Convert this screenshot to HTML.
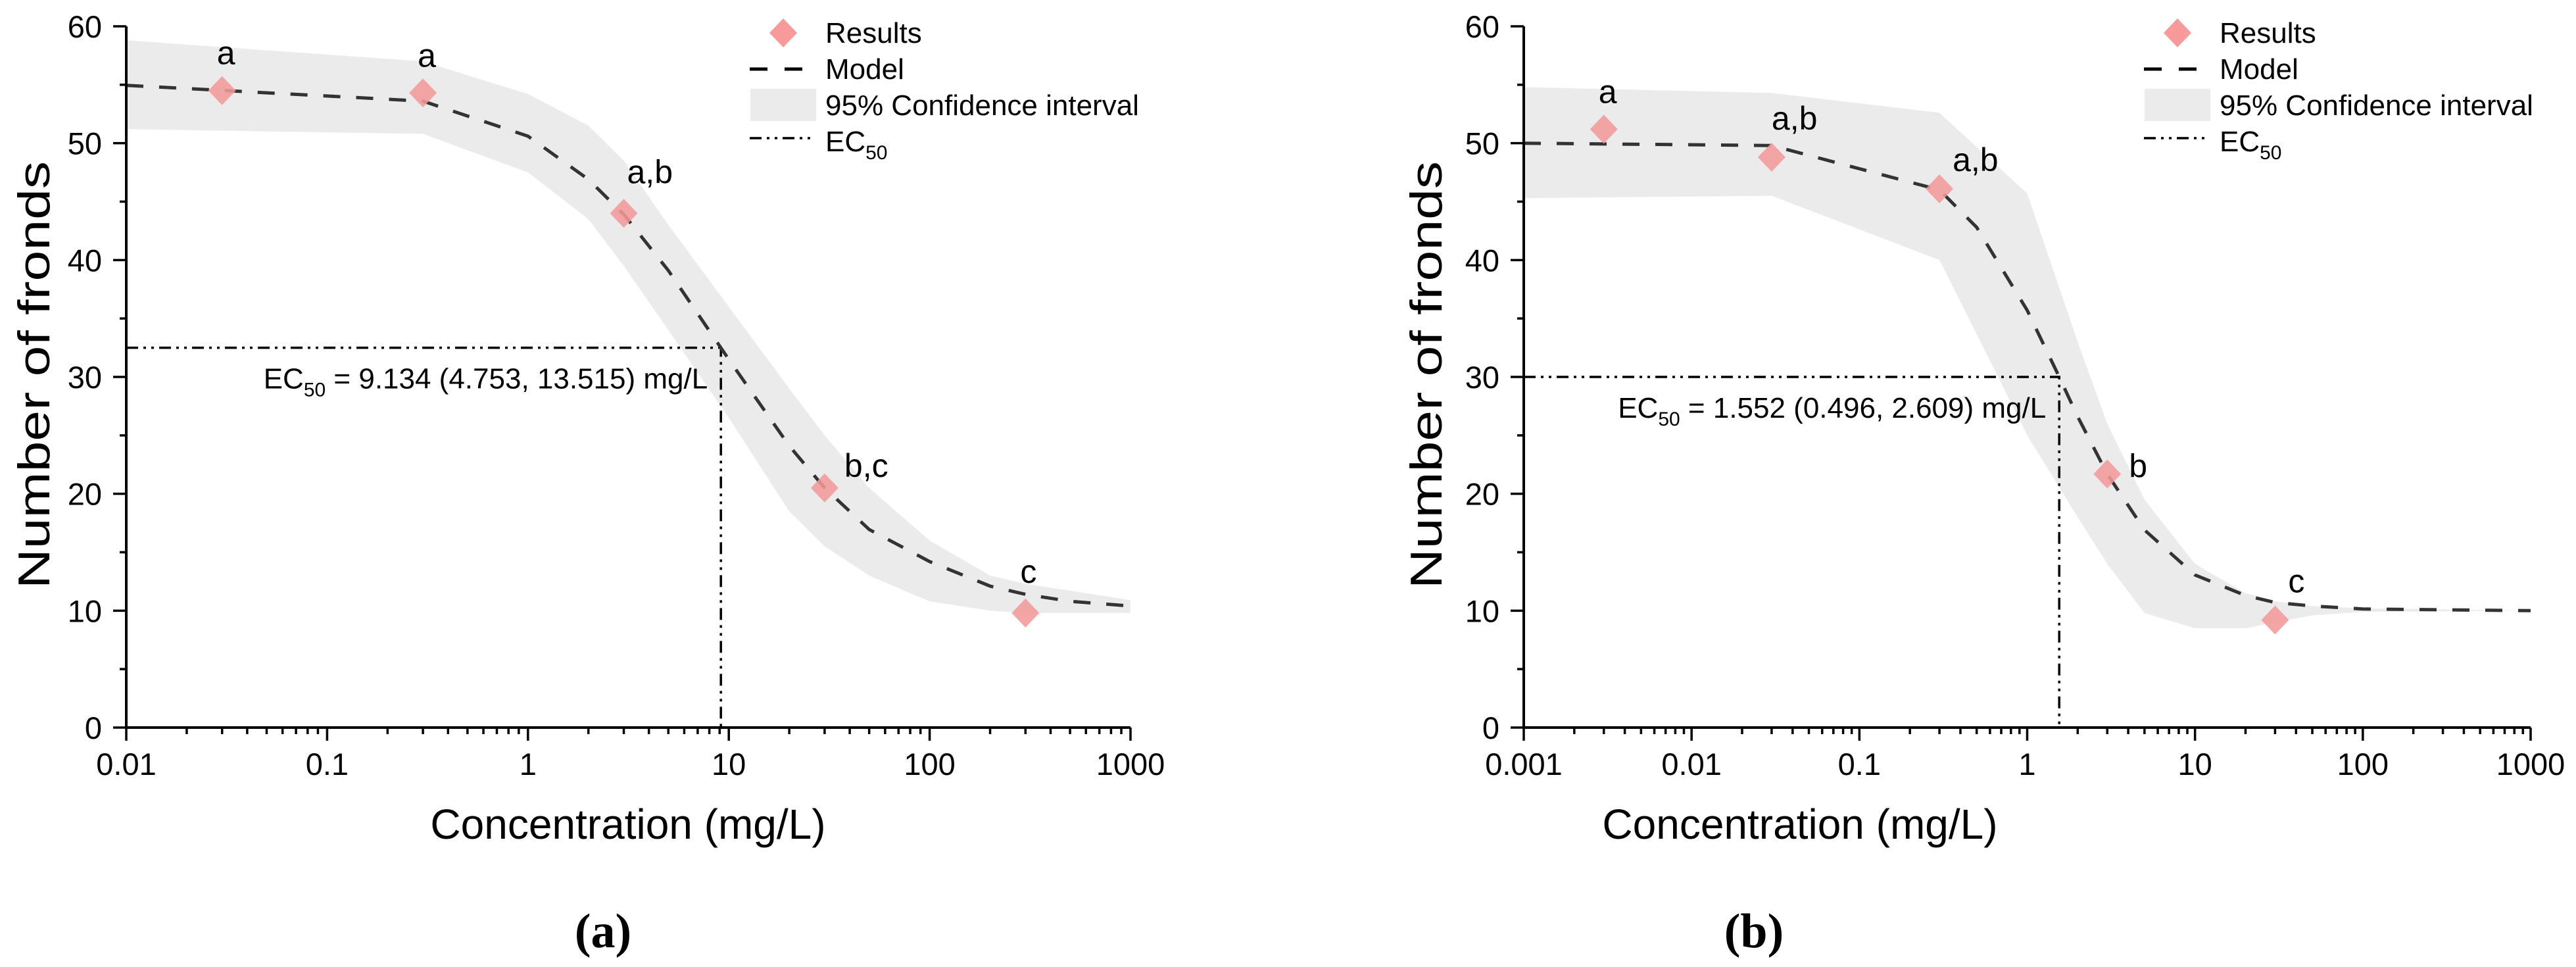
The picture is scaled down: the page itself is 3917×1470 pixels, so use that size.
<!DOCTYPE html>
<html><head><meta charset="utf-8"><style>
html,body{margin:0;padding:0;background:#fff}
svg{display:block}
text{font-family:"Liberation Sans",Arial,sans-serif;fill:#000}
</style></head><body>
<svg id="fig" width="3917" height="1470" viewBox="0 0 3917 1470" xmlns="http://www.w3.org/2000/svg">
<g id="ga"></g>
<g id="gb"></g>
</svg>
<script>
// ---- Chart (a) data ----
const aPointX = [0.03, 0.3, 3, 30, 300];
const aPointY = [54.5, 54.3, 44, 20.5, 9.8];
const aPointLabels = ["a", "a", "a,b", "b,c", "c"];
const aModelX = [0.01, 0.3, 1, 2, 3, 5, 10, 20, 30, 50, 100, 200, 300, 500, 1000];
const aModelY = [54.95, 53.6, 50.6, 46.9, 43.9, 39.1, 31.5, 24.1, 20.5, 16.95, 14.2, 12.1, 11.4, 10.8, 10.4];
const aBandX = [0.01, 0.3, 1, 2, 3, 5, 10, 20, 30, 50, 100, 200, 300, 1000];
const aBandUpper = [58.8, 57, 54.2, 51.5, 48.5, 43, 36, 29, 25, 20.5, 16, 13, 12.3, 10.9];
const aBandLower = [51.2, 50.8, 47.5, 43.5, 39.5, 34, 26.5, 18.5, 15.5, 13, 10.8, 10, 9.8, 9.8];
const aEC50 = 9.134;
const aEC50Y = 32.5;
const aTickLabels = ["0.01", "0.1", "1", "10", "100", "1000"];
// ---- Chart (b) data ----
const bPointX = [0.003, 0.03, 0.3, 3, 30];
const bPointY = [51.2, 48.8, 46.1, 21.7, 9.2];
const bPointLabels = ["a", "a,b", "a,b", "b", "c"];
const bModelX = [0.001, 0.03, 0.3, 0.5, 1, 1.552, 2, 3, 5, 10, 20, 30, 50, 100, 1000];
const bModelY = [50, 49.8, 46.0, 42.8, 35.7, 30, 26.6, 21.7, 16.9, 13.05, 11.3, 10.7, 10.4, 10.15, 10.0];
const bBandX = [0.001, 0.03, 0.3, 1, 2, 3, 5, 10, 20, 30, 50, 100, 1000];
const bBandUpper = [54.8, 54.3, 52.6, 45.7, 33, 26, 19.5, 14, 11.5, 10.8, 10.4, 10.2, 10];
const bBandLower = [45.3, 45.5, 40, 25, 18, 14, 9.8, 8.5, 8.5, 9, 9.6, 9.9, 10];
const bEC50 = 1.552;
const bEC50Y = 30;
const bTickLabels = ["0.001", "0.01", "0.1", "1", "10", "100", "1000"];
const yTickLabels = ["0", "10", "20", "30", "40", "50", "60"];

const NS = "http://www.w3.org/2000/svg";
function mk(parent, tag, attrs, txt) {
  const e = document.createElementNS(NS, tag);
  for (const k in attrs) e.setAttribute(k, attrs[k]);
  if (txt !== undefined) e.textContent = txt;
  parent.appendChild(e);
  return e;
}

function draw(g, cfg) {
  const x0 = cfg.x0, x1 = cfg.x1, yTop = 40, yBot = 1106;
  const lmin = Math.log10(cfg.xmin), lmax = Math.log10(cfg.xmax);
  const X = v => x0 + (Math.log10(v) - lmin) / (lmax - lmin) * (x1 - x0);
  const Y = v => yBot - v / 60 * (yBot - yTop);

  let d = "";
  cfg.bandX.forEach((v, i) => { d += (i ? "L" : "M") + X(v).toFixed(1) + "," + Y(cfg.upper[i]).toFixed(1); });
  for (let i = cfg.bandX.length - 1; i >= 0; i--) d += "L" + X(cfg.bandX[i]).toFixed(1) + "," + Y(cfg.lower[i]).toFixed(1);
  const band = mk(g, "path", {d: d + "Z", fill: "#ebebeb"});
  
  

  const ex = X(cfg.ec50), ey = Y(cfg.ec50y);
  const ecl = mk(g, "path", {d: `M${x0},${ey}L${ex},${ey}L${ex},${yBot}`, fill: "none", stroke: "#000", "stroke-width": 3.5, "stroke-dasharray": "18 8 4 8 4 8"});
  
  
  const lab = mk(g, "text", {x: ex - 20, y: ey + 62, "font-size": 44, "text-anchor": "end"});
  
  
  mk(lab, "tspan", {}, "EC");
  mk(lab, "tspan", {"font-size": 30, dy: 12}, "50");
  mk(lab, "tspan", {dy: -12}, " = " + cfg.ecText);

  let md = "";
  cfg.modelX.forEach((v, i) => { md += (i ? "L" : "M") + X(v).toFixed(1) + "," + Y(cfg.modelY[i]).toFixed(1); });
  const model = mk(g, "path", {d: md, fill: "none", stroke: "#333", "stroke-width": 5, "stroke-dasharray": "26 24"});
  
  

  cfg.px.forEach((v, i) => {
    const cx = X(v), cy = Y(cfg.py[i]);
    const p = mk(g, "path", {d: `M${cx},${cy - 22}L${cx + 21},${cy}L${cx},${cy + 22}L${cx - 21},${cy}Z`, fill: "#f39a9a", "fill-opacity": 0.88});
    
    
    const o = cfg.lblOff[i];
    const t = mk(g, "text", {x: cx + o[0], y: cy + o[1], "font-size": 50}, cfg.labels[i]);
    
    
  });

  const ax = mk(g, "path", {d: `M${x0},${yTop}L${x0},${yBot}L${x1},${yBot}`, fill: "none", stroke: "#000", "stroke-width": 4});
  
  
  let td = "";
  for (let k = 0; k <= 12; k++) {
    const yy = Y(k * 5), len = k % 2 ? 10 : 20;
    td += `M${x0 - len},${yy}L${x0},${yy}`;
  }
  for (let e = lmin; e <= lmax; e++) {
    const base = Math.pow(10, e);
    td += `M${X(base)},${yBot}L${X(base)},${yBot + 20}`;
    if (e < lmax) for (let m = 2; m <= 9; m++) td += `M${X(base * m)},${yBot}L${X(base * m)},${yBot + 10}`;
  }
  const ticks = mk(g, "path", {d: td, fill: "none", stroke: "#000", "stroke-width": 3.5});
  
  
  yTickLabels.forEach((s, i) => {
    const t = mk(g, "text", {x: x0 - 37, y: Y(i * 10) + 17, "font-size": 47, "text-anchor": "end"}, s);
    
    
  });
  cfg.tickLabels.forEach((s, i) => {
    const t = mk(g, "text", {x: X(Math.pow(10, lmin + i)), y: 1178, "font-size": 47, "text-anchor": "middle"}, s);
    
    
  });
  const xt = mk(g, "text", {x: cfg.xTitleX, y: 1275, "font-size": 64, "text-anchor": "middle"}, "Concentration (mg/L)");
  
  
  const yt = mk(g, "text", {x: 0, y: 0, "font-size": 68, "text-anchor": "middle", transform: `translate(${cfg.yTitleX},570) rotate(-90)`, textLength: 650, lengthAdjust: "spacingAndGlyphs"}, "Number of fronds");
  
  
  const pl = mk(g, "text", {x: cfg.panelX, y: 1440, "font-size": 74, "font-weight": "bold", "text-anchor": "middle", style: 'font-family:"Liberation Serif",serif'}, cfg.panel);
  
  

  const lx = cfg.legX;
  const leg = mk(g, "g", {});
  
  
  mk(leg, "path", {d: `M${lx + 51},28L${lx + 72},50L${lx + 51},72L${lx + 30},50Z`, fill: "#f89a9a"});
  mk(leg, "path", {d: `M${lx},105L${lx + 80},105`, stroke: "#000", "stroke-width": 5, "stroke-dasharray": "27 26"});
  mk(leg, "rect", {x: lx + 1, y: 135, width: 100, height: 49, fill: "#ebebeb"});
  mk(leg, "path", {d: `M${lx},210L${lx + 96},210`, stroke: "#000", "stroke-width": 3.5, "stroke-dasharray": "18 8 4 8 4 8"});
  const tx = lx + 115;
  ["Results", "Model", "95% Confidence interval"].forEach((s, i) => {
    const t = mk(leg, "text", {x: tx, y: 65 + i * 55, "font-size": 44}, s);
    
    
  });
  const ec = mk(leg, "text", {x: tx, y: 230, "font-size": 44});
  
  
  mk(ec, "tspan", {}, "EC");
  mk(ec, "tspan", {"font-size": 30, dy: 12}, "50");
}

draw(document.getElementById("ga"), {
  x0: 192, x1: 1719, xmin: 0.01, xmax: 1000,
  px: aPointX, py: aPointY, labels: aPointLabels,
  lblOff: [[-8, -40], [-8, -40], [5, -46], [30, -17], [-8, -46]],
  modelX: aModelX, modelY: aModelY, bandX: aBandX, upper: aBandUpper, lower: aBandLower,
  ec50: aEC50, ec50y: aEC50Y, ecText: "9.134 (4.753, 13.515) mg/L",
  tickLabels: aTickLabels, xTitleX: 955, yTitleX: 75, panel: "(a)", panelX: 917, legX: 1140
});
draw(document.getElementById("gb"), {
  x0: 2317, x1: 3848, xmin: 0.001, xmax: 1000,
  px: bPointX, py: bPointY, labels: bPointLabels,
  lblOff: [[-8, -40], [0, -42], [20, -27], [33, 5], [20, -42]],
  modelX: bModelX, modelY: bModelY, bandX: bBandX, upper: bBandUpper, lower: bBandLower,
  ec50: bEC50, ec50y: bEC50Y, ecText: "1.552 (0.496, 2.609) mg/L",
  tickLabels: bTickLabels, xTitleX: 2737, yTitleX: 2192, panel: "(b)", panelX: 2667, legX: 3260
});
</script>
</body></html>
